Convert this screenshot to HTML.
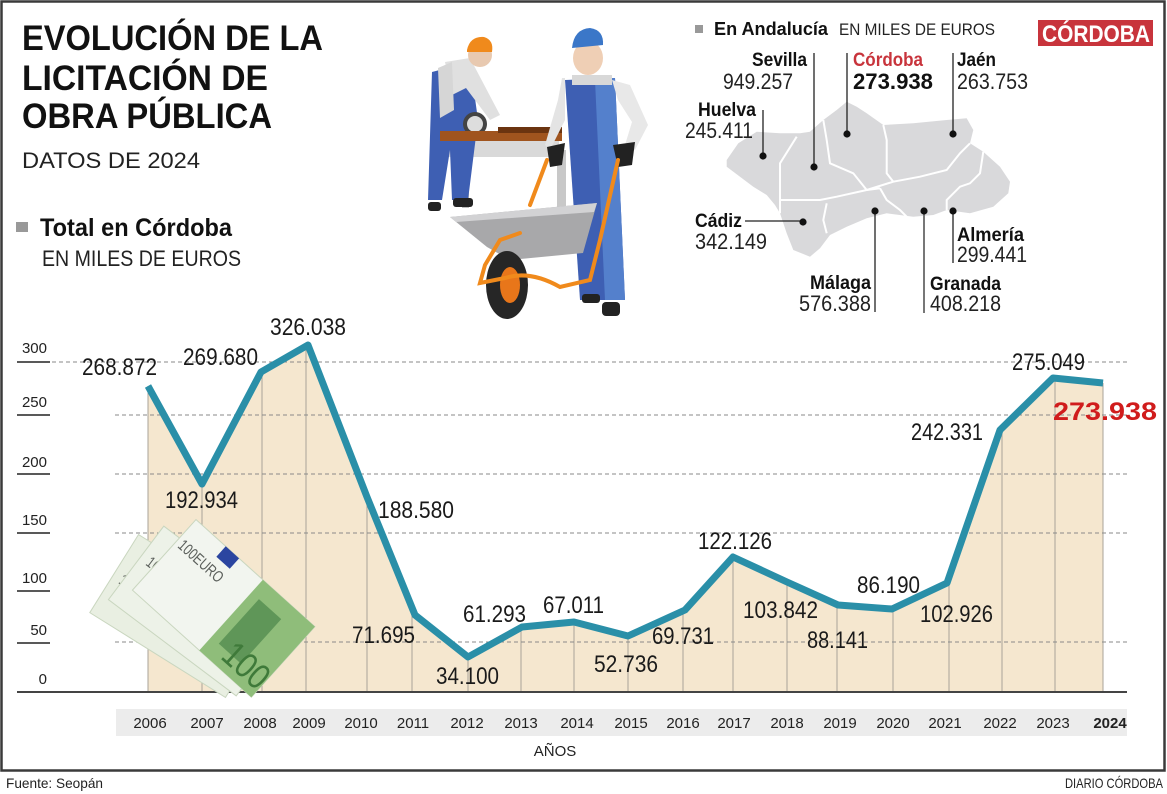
<!DOCTYPE html>
<html><head><meta charset="utf-8">
<style>
html,body{margin:0;padding:0;background:#fff;}
svg{display:block;}
text{font-family:"Liberation Sans",sans-serif;}
</style></head>
<body>
<svg width="1167" height="794" viewBox="0 0 1167 794" xmlns="http://www.w3.org/2000/svg">
<rect x="0" y="0" width="1167" height="794" fill="#fff"/>
<rect x="1.5" y="1.5" width="1163" height="769" fill="none" stroke="#3a3a3a" stroke-width="2.5"/>

<!-- Title -->
<g font-weight="bold" fill="#111" font-size="35">
<text x="22" y="50" textLength="301" lengthAdjust="spacingAndGlyphs">EVOLUCIÓN DE LA</text>
<text x="22" y="90" textLength="246" lengthAdjust="spacingAndGlyphs">LICITACIÓN DE</text>
<text x="22" y="128" textLength="250" lengthAdjust="spacingAndGlyphs">OBRA PÚBLICA</text>
</g>
<text x="22" y="168" font-size="22" fill="#222" textLength="178" lengthAdjust="spacingAndGlyphs">DATOS DE 2024</text>
<rect x="16" y="222" width="12" height="10" fill="#999"/>
<text x="40" y="236" font-size="25" font-weight="bold" fill="#111" textLength="192" lengthAdjust="spacingAndGlyphs">Total en Córdoba</text>
<text x="42" y="266" font-size="22" fill="#222" textLength="199" lengthAdjust="spacingAndGlyphs">EN MILES DE EUROS</text>

<!-- Workers illustration -->
<g>
 <!-- table -->
 <rect x="462" y="150" width="7" height="58" fill="#bdbdbd"/>
 <rect x="557" y="150" width="9" height="58" fill="#c8c8c8"/>
 <rect x="447" y="140" width="112" height="17" fill="#d9d9d9"/>
 <!-- left worker -->
 <path d="M432 72 L470 62 L478 120 L468 200 L452 200 L450 150 L442 200 L428 200 Z" fill="#3e5fb3"/>
 <path d="M445 62 L470 58 L500 115 L490 120 L466 88 L452 95 Z" fill="#e0e0e0"/>
 <path d="M438 68 L452 62 L454 110 L440 118 Z" fill="#d6d6d6"/>
 <ellipse cx="480" cy="55" rx="12" ry="12" fill="#e8c9b0"/>
 <path d="M467 50 Q470 36 484 37 Q494 40 492 52 L467 52 Z" fill="#f08a1c"/>
 <rect x="428" y="202" width="13" height="9" rx="3" fill="#222"/>
 <rect x="453" y="198" width="20" height="9" rx="3" fill="#222"/>
 <circle cx="475" cy="124" r="12" fill="#444"/>
 <circle cx="475" cy="124" r="8" fill="#ddd"/>
 <!-- table top -->
 <rect x="440" y="131" width="122" height="10" fill="#a0541e"/>
 <rect x="498" y="127" width="64" height="6" fill="#6b3410"/>
 <!-- right worker -->
 <path d="M565 80 L615 78 L625 300 L580 300 Z" fill="#3e5fb3"/>
 <path d="M595 80 L615 78 L625 300 L605 300 Z" fill="#5480cc"/>
 <path d="M562 78 L565 78 L565 120 L550 150 L545 145 L558 100 Z" fill="#e4e4e4"/>
 <path d="M612 80 L630 85 L648 125 L635 150 L625 145 L632 122 L618 100 Z" fill="#e8e8e8"/>
 <rect x="572" y="75" width="40" height="10" fill="#d8d8d8"/>
 <ellipse cx="588" cy="58" rx="15" ry="17" fill="#efcfb5"/>
 <path d="M572 48 Q574 29 590 28 Q604 30 603 45 L572 48 Z" fill="#3b77c8"/>
 <path d="M547 147 L565 143 L562 165 L550 167 Z" fill="#222"/>
 <path d="M613 145 L635 142 L632 165 L618 167 Z" fill="#222"/>
 <rect x="582" y="294" width="18" height="9" rx="3" fill="#222"/>
 <rect x="602" y="302" width="18" height="14" rx="4" fill="#222"/>
 <!-- wheelbarrow -->
 <path d="M450 217 L597 203 L583 253 L510 260 L487 247 Z" fill="#a8a8aa"/>
 <path d="M450 217 L597 203 L594 212 L456 222 Z" fill="#d2d2d4"/>
 <ellipse cx="507" cy="285" rx="21" ry="34" fill="#262626"/>
 <ellipse cx="510" cy="285" rx="10" ry="18" fill="#e8761a"/>
 <g fill="none" stroke="#f08a1c" stroke-width="4" stroke-linecap="round">
  <path d="M530 205 L547 160"/>
  <path d="M618 160 L600 240 L590 280 L560 287 Q530 270 505 278 L480 283 L485 265 L500 240 L520 233"/>
 </g>
</g>

<!-- Andalucía header -->
<rect x="695" y="25" width="8" height="8" fill="#999"/>
<text x="714" y="35" font-size="18" font-weight="bold" fill="#111" textLength="114" lengthAdjust="spacingAndGlyphs">En Andalucía</text>
<text x="839" y="35" font-size="17" fill="#222" textLength="156" lengthAdjust="spacingAndGlyphs">EN MILES DE EUROS</text>
<rect x="1038" y="20" width="115" height="26" fill="#c8343c"/>
<text x="1042" y="42" font-size="24" font-weight="bold" fill="#fff" textLength="108" lengthAdjust="spacingAndGlyphs">CÓRDOBA</text>

<!-- Map -->
<path d="M726.7 160 L738.3 143.3 L756.7 131.7 L780 133.3 L800 133.3 L810 131.7 L823.3 120 L836.7 110 L846.7 101.7 L856.7 106.7 L866.7 113.3 L883.3 125 L913.3 123.3 L946.7 120 L966.7 118.3 L973.3 130 L970 143.3 L983.3 151.7 L1000 166.7 L1010 181.7 L1008.3 193.3 L993.3 206.7 L970 213.3 L946.7 210 L933.3 215 L913.3 216.7 L886.7 213.3 L866.7 218.3 L846.7 226.7 L830 235 L820 248.3 L810 256.7 L793.3 250 L786.7 233.3 L780 213.3 L775 205 L766.7 195 L753.3 186.7 L740 176.7 L726.7 166.7 Z" fill="#d9d9db"/>
<g fill="none" stroke="#fff" stroke-width="2">
 <path d="M796.7 136.7 L780 163.3 L780 200 L780 213.3"/>
 <path d="M823.3 120 L826.7 140 L830 163.3 L853.3 173.3 L866.7 190"/>
 <path d="M883.3 125 L886.7 140 L886.7 173.3 L893.3 181.7"/>
 <path d="M780 200 L820 200 L836.7 196.7 L866.7 190 L880 188.3"/>
 <path d="M826.7 203.3 L823.3 220 L826.7 233.3"/>
 <path d="M880 188.3 L886.7 200 L900 210 L906.7 216.7"/>
 <path d="M866.7 190 L893.3 181.7 L920 176.7 L946.7 170 L960 153.3 L970 143.3"/>
 <path d="M983.3 151.7 L980 173.3 L970 183.3 L960 186.7 L946.7 200 L946.7 210"/>
</g>
<g stroke="#222" stroke-width="1.3">
 <line x1="814" y1="53" x2="814" y2="167"/>
 <line x1="847" y1="53" x2="847" y2="134"/>
 <line x1="953" y1="53" x2="953" y2="134"/>
 <line x1="763" y1="110" x2="763" y2="156"/>
 <line x1="745" y1="221" x2="803" y2="221"/>
 <line x1="875" y1="211" x2="875" y2="312"/>
 <line x1="924" y1="211" x2="924" y2="313" stroke="#777" stroke-width="2"/>
 <line x1="953" y1="211" x2="953" y2="263"/>
</g>
<g fill="#111">
 <circle cx="763" cy="156" r="3.6"/><circle cx="814" cy="167" r="3.6"/>
 <circle cx="847" cy="134" r="3.6"/><circle cx="953" cy="134" r="3.6"/>
 <circle cx="803" cy="222" r="3.6"/><circle cx="875" cy="211" r="3.6"/>
 <circle cx="924" cy="211" r="3.6"/><circle cx="953" cy="211" r="3.6"/>
</g>
<g font-size="19" font-weight="bold" fill="#111">
 <text x="752" y="66" textLength="55" lengthAdjust="spacingAndGlyphs">Sevilla</text>
 <text x="853" y="66" textLength="70" lengthAdjust="spacingAndGlyphs" fill="#c8343c">Córdoba</text>
 <text x="957" y="66" textLength="39" lengthAdjust="spacingAndGlyphs">Jaén</text>
 <text x="698" y="116" textLength="58" lengthAdjust="spacingAndGlyphs">Huelva</text>
 <text x="695" y="227" textLength="47" lengthAdjust="spacingAndGlyphs">Cádiz</text>
 <text x="957" y="241" textLength="67" lengthAdjust="spacingAndGlyphs">Almería</text>
 <text x="810" y="289" textLength="61" lengthAdjust="spacingAndGlyphs">Málaga</text>
 <text x="930" y="290" textLength="71" lengthAdjust="spacingAndGlyphs">Granada</text>
</g>
<g font-size="22" fill="#222">
 <text x="723" y="89" textLength="70" lengthAdjust="spacingAndGlyphs">949.257</text>
 <text x="853" y="89" textLength="80" lengthAdjust="spacingAndGlyphs" font-weight="bold" fill="#111">273.938</text>
 <text x="957" y="89" textLength="71" lengthAdjust="spacingAndGlyphs">263.753</text>
 <text x="685" y="138" textLength="68" lengthAdjust="spacingAndGlyphs">245.411</text>
 <text x="695" y="249" textLength="72" lengthAdjust="spacingAndGlyphs">342.149</text>
 <text x="957" y="262" textLength="70" lengthAdjust="spacingAndGlyphs">299.441</text>
 <text x="799" y="311" textLength="72" lengthAdjust="spacingAndGlyphs">576.388</text>
 <text x="930" y="311" textLength="71" lengthAdjust="spacingAndGlyphs">408.218</text>
</g>

<!-- Chart area fill -->
<path d="M148 386 L202 484 L261 372 L308 345 L367 497 L415 615 L468 657 L522 627 L574 622 L628 636 L685 610 L733 557 L787 582 L838 605 L892 609 L947 583 L1000 430 L1053 378 L1103 383 L1103 692 L148 692 Z" fill="#f5e7cf"/>
<g stroke="#a9a39a" stroke-width="1">
 <line x1="148" y1="386" x2="148" y2="692"/><line x1="202" y1="484" x2="202" y2="692"/>
 <line x1="262" y1="372" x2="262" y2="692"/><line x1="306" y1="345" x2="306" y2="692"/>
 <line x1="367" y1="497" x2="367" y2="692"/><line x1="412" y1="610" x2="412" y2="692"/>
 <line x1="468" y1="657" x2="468" y2="692"/><line x1="521" y1="627" x2="521" y2="692"/>
 <line x1="574" y1="622" x2="574" y2="692"/><line x1="628" y1="636" x2="628" y2="692"/>
 <line x1="683" y1="610" x2="683" y2="692"/><line x1="733" y1="557" x2="733" y2="692"/>
 <line x1="787" y1="582" x2="787" y2="692"/><line x1="837" y1="605" x2="837" y2="692"/>
 <line x1="893" y1="609" x2="893" y2="692"/><line x1="949" y1="583" x2="949" y2="692"/>
 <line x1="1002" y1="430" x2="1002" y2="692"/><line x1="1055" y1="378" x2="1055" y2="692"/>
 <line x1="1103" y1="383" x2="1103" y2="692"/>
</g>
<!-- grid -->
<g stroke="#8a8a8a" stroke-width="1" stroke-dasharray="4,3">
 <line x1="52" y1="362" x2="1127" y2="362"/>
 <line x1="115" y1="415" x2="1127" y2="415"/>
 <line x1="115" y1="474" x2="1127" y2="474"/>
 <line x1="115" y1="533" x2="1127" y2="533"/>
 <line x1="115" y1="642" x2="1127" y2="642"/>
</g>
<g stroke="#222" stroke-width="1.5">
 <line x1="17" y1="362" x2="50" y2="362"/><line x1="17" y1="415" x2="50" y2="415"/>
 <line x1="17" y1="474" x2="50" y2="474"/><line x1="17" y1="533" x2="50" y2="533"/>
 <line x1="17" y1="591" x2="50" y2="591"/><line x1="17" y1="643" x2="50" y2="643"/>
</g>
<line x1="17" y1="692" x2="1127" y2="692" stroke="#444" stroke-width="2"/>
<g font-size="15" fill="#222" text-anchor="end">
 <text x="47" y="353">300</text><text x="47" y="407">250</text>
 <text x="47" y="467">200</text><text x="47" y="525">150</text>
 <text x="47" y="583">100</text><text x="47" y="635">50</text>
 <text x="47" y="684">0</text>
</g>

<!-- Euro bills -->
<g>
 <g transform="translate(182,616) rotate(32)">
  <rect x="-80" y="-46" width="160" height="92" fill="#e9efe2" stroke="#c9d6bf" stroke-width="1"/>
  <text x="-72" y="6" font-size="16" fill="#5b5f5b" textLength="55" lengthAdjust="spacingAndGlyphs">100EURO</text>
 </g>
 <g transform="translate(200,611) rotate(37)">
  <rect x="-80" y="-46" width="160" height="92" fill="#edf2e8" stroke="#c9d6bf" stroke-width="1"/>
  <text x="-72" y="-4" font-size="16" fill="#5b5f5b" textLength="55" lengthAdjust="spacingAndGlyphs">100EURO</text>
 </g>
 <g transform="translate(224,608) rotate(42)">
  <rect x="-80" y="-47" width="160" height="95" fill="#f2f5ef" stroke="#c9d6bf" stroke-width="1"/>
  <rect x="10" y="-47" width="70" height="95" fill="#8fbd7a"/>
  <rect x="20" y="-30" width="30" height="60" fill="#5f9658"/>
  <rect x="-40" y="-47" width="18" height="14" fill="#2b45a0"/>
  <text x="-76" y="-14" font-size="16" fill="#5b5f5b" textLength="55" lengthAdjust="spacingAndGlyphs">100EURO</text>
  <text x="30" y="40" font-size="36" fill="#3f7a3a" textLength="50" lengthAdjust="spacingAndGlyphs">100</text>
 </g>
</g>

<!-- Line -->
<polyline points="148,386 202,484 261,372 308,345 367,497 415,615 468,657 522,627 574,622 628,636 685,610 733,557 787,582 838,605 892,609 947,583 1000,430 1053,378 1103,383" fill="none" stroke="#2a8fa8" stroke-width="7" stroke-linejoin="round" stroke-linecap="butt"/>

<!-- Data labels -->
<g font-size="24" fill="#1a1a1a">
 <text x="82" y="375" textLength="75" lengthAdjust="spacingAndGlyphs">268.872</text>
 <text x="183" y="365" textLength="75" lengthAdjust="spacingAndGlyphs">269.680</text>
 <text x="270" y="335" textLength="76" lengthAdjust="spacingAndGlyphs">326.038</text>
 <text x="165" y="508" textLength="73" lengthAdjust="spacingAndGlyphs">192.934</text>
 <text x="378" y="518" textLength="76" lengthAdjust="spacingAndGlyphs">188.580</text>
 <text x="352" y="643" textLength="63" lengthAdjust="spacingAndGlyphs">71.695</text>
 <text x="436" y="684" textLength="63" lengthAdjust="spacingAndGlyphs">34.100</text>
 <text x="463" y="622" textLength="63" lengthAdjust="spacingAndGlyphs">61.293</text>
 <text x="543" y="613" textLength="61" lengthAdjust="spacingAndGlyphs">67.011</text>
 <text x="594" y="672" textLength="64" lengthAdjust="spacingAndGlyphs">52.736</text>
 <text x="652" y="644" textLength="62" lengthAdjust="spacingAndGlyphs">69.731</text>
 <text x="698" y="549" textLength="74" lengthAdjust="spacingAndGlyphs">122.126</text>
 <text x="743" y="618" textLength="75" lengthAdjust="spacingAndGlyphs">103.842</text>
 <text x="807" y="648" textLength="61" lengthAdjust="spacingAndGlyphs">88.141</text>
 <text x="857" y="593" textLength="63" lengthAdjust="spacingAndGlyphs">86.190</text>
 <text x="920" y="622" textLength="73" lengthAdjust="spacingAndGlyphs">102.926</text>
 <text x="911" y="440" textLength="72" lengthAdjust="spacingAndGlyphs">242.331</text>
 <text x="1012" y="370" textLength="73" lengthAdjust="spacingAndGlyphs">275.049</text>
</g>
<text x="1053" y="420" font-size="25" font-weight="bold" fill="#d01c1c" textLength="104" lengthAdjust="spacingAndGlyphs">273.938</text>

<!-- Year band -->
<rect x="116" y="709" width="1011" height="27" fill="#ececec"/>
<g font-size="15" fill="#222" text-anchor="middle">
 <text x="150" y="728">2006</text><text x="207" y="728">2007</text>
 <text x="260" y="728">2008</text><text x="309" y="728">2009</text>
 <text x="361" y="728">2010</text><text x="413" y="728">2011</text>
 <text x="467" y="728">2012</text><text x="521" y="728">2013</text>
 <text x="577" y="728">2014</text><text x="631" y="728">2015</text>
 <text x="683" y="728">2016</text><text x="734" y="728">2017</text>
 <text x="787" y="728">2018</text><text x="840" y="728">2019</text>
 <text x="893" y="728">2020</text><text x="945" y="728">2021</text>
 <text x="1000" y="728">2022</text><text x="1053" y="728">2023</text>
 <text x="1110" y="728" font-weight="bold">2024</text>
</g>
<text x="555" y="756" font-size="15" fill="#222" text-anchor="middle">AÑOS</text>

<!-- Footer -->
<text x="6" y="788" font-size="14" fill="#222" textLength="97" lengthAdjust="spacingAndGlyphs">Fuente: Seopán</text>
<text x="1065" y="788" font-size="14" fill="#222" textLength="98" lengthAdjust="spacingAndGlyphs">DIARIO CÓRDOBA</text>
</svg>
</body></html>
